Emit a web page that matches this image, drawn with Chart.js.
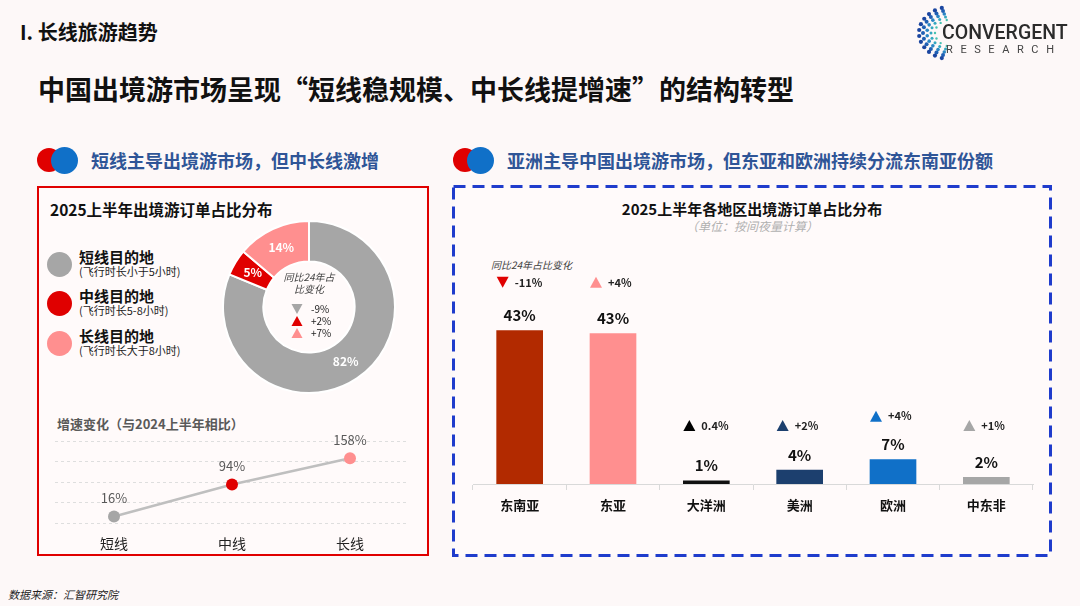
<!DOCTYPE html>
<html>
<head>
<meta charset="utf-8">
<script src="https://cdn.jsdelivr.net/npm/chart.js@4.4.1/dist/chart.umd.min.js"></script>
<style>
body { margin: 0; background: #fdf8f8; font-family: "Noto Sans CJK SC", "Noto Sans", sans-serif; }
#page { position: relative; width: 1080px; height: 606px; overflow: hidden; }
.t { position: absolute; white-space: nowrap; color: #111; }
.dot { position: absolute; border-radius: 50%; }
canvas { position: absolute; }
</style>
</head>
<body>
<div id="page">
  <div class="t" style="left:20px;top:21px;font-size:20px;line-height:22px;font-weight:700;">I. 长线旅游趋势</div>
  <div class="t" style="left:38px;top:73px;font-size:27px;line-height:32px;font-weight:700;">中国出境游市场呈现“短线稳规模、中长线提增速”的结构转型</div>

  <canvas id="logo" width="60" height="64" style="left:900px;top:2px;"></canvas>
  <div class="t" style="left:942px;top:21px;font-family:Roboto,'Noto Sans',sans-serif;font-size:19.5px;line-height:24px;font-weight:500;color:#2b2b2b;">CONVERGENT</div>
  <div class="t" style="left:946px;top:43px;font-family:Roboto,'Noto Sans',sans-serif;font-size:11px;line-height:14px;color:#444;letter-spacing:7.6px;">RESEARCH</div>

  <div class="dot" style="left:37px;top:148px;width:24px;height:24px;background:#e00000;"></div>
  <div class="dot" style="left:51px;top:147px;width:27px;height:27px;background:#1070c8;"></div>
  <div class="t" style="left:91px;top:149px;font-size:18px;line-height:22px;font-weight:700;color:#2f5597;">短线主导出境游市场，但中长线激增</div>
  <div class="dot" style="left:453px;top:148px;width:24px;height:24px;background:#e00000;"></div>
  <div class="dot" style="left:467px;top:147px;width:27px;height:27px;background:#1070c8;"></div>
  <div class="t" style="left:507px;top:149px;font-size:18px;line-height:22px;font-weight:700;color:#2f5597;">亚洲主导中国出境游市场，但东亚和欧洲持续分流东南亚份额</div>

  <div style="position:absolute;left:37px;top:186px;width:392px;height:370px;box-sizing:border-box;border:2.5px solid #e00000;background:#fffafa;"></div>
  <svg style="position:absolute;left:452px;top:185px;" width="600" height="372">
    <rect x="1.5" y="1.5" width="597" height="369" fill="#fffafa" stroke="#1f3ccc" stroke-width="3" stroke-dasharray="12 7"></rect>
  </svg>

  <div class="t" style="left:50px;top:199px;font-size:15.5px;line-height:20px;font-weight:700;">2025上半年出境游订单占比分布</div>
  <div id="legend"></div>
  <canvas id="donut" style="left:222px;top:220px;width:174px;height:174px;"></canvas>

  <div class="t" style="left:57px;top:415px;font-size:13px;line-height:18px;font-weight:700;color:#595959;">增速变化（与2024上半年相比）</div>
  <canvas id="growth" style="left:40px;top:430px;width:380px;height:124px;"></canvas>

  <div class="t" style="left:452px;width:600px;top:199px;text-align:center;font-size:15px;line-height:20px;font-weight:700;">2025上半年各地区出境游订单占比分布</div>
  <div class="t" style="left:452px;width:600px;top:217px;text-align:center;font-size:12px;line-height:17px;font-style:italic;color:#b0b0b0;">（单位：按间夜量计算）</div>
  <div class="t" style="left:491px;top:258px;font-size:10px;line-height:14px;font-style:italic;color:#404040;">同比24年占比变化</div>
  <canvas id="regions" style="left:463px;top:262px;width:580px;height:268px;"></canvas>

  <div class="t" style="left:8px;top:586px;font-size:11px;line-height:16px;font-style:italic;color:#222;">数据来源：汇智研究院</div>
</div>

<script>
// 2025上半年出境游订单占比
const shareLabels = ['短线目的地', '中线目的地', '长线目的地'];
const shareNotes = ['(飞行时长小于5小时)', '(飞行时长5-8小时)', '(飞行时长大于8小时)'];
const shareValues = [82, 5, 14];
const shareChange = [-9, 2, 7];
const shareColors = ['#a6a6a6', '#e00000', '#ff8f8f'];

// 增速变化
const growthLabels = ['短线', '中线', '长线'];
const growthValues = [16, 94, 158];
const growthMax = 200;

// 各地区占比
const regionLabels = ['东南亚', '东亚', '大洋洲', '美洲', '欧洲', '中东非'];
const regionValues = [43.4, 42.6, 1, 4, 7, 2];
const regionChange = [-11, 4, 0.4, 2, 4, 1];
const regionChangeText = ['-11%', '+4%', '0.4%', '+2%', '+4%', '+1%'];
const regionColors = ['#b22a00', '#ff8f8f', '#111111', '#1c3f6e', '#1070c8', '#a6a6a6'];
const regionMarkColors = ['#e00000', '#ff8f8f', '#000000', '#1c3f6e', '#1070c8', '#a6a6a6'];

const FONT = '"Noto Sans CJK SC", "Noto Sans", sans-serif';
Chart.defaults.font.family = FONT;
Chart.defaults.animation = false;

function triangle(ctx, x, y, up, color, w, h) {
    ctx.save();
    ctx.fillStyle = color;
    ctx.beginPath();
    if (up) {
        ctx.moveTo(x, y - h / 2);
        ctx.lineTo(x + w / 2, y + h / 2);
        ctx.lineTo(x - w / 2, y + h / 2);
    } else {
        ctx.moveTo(x - w / 2, y - h / 2);
        ctx.lineTo(x + w / 2, y - h / 2);
        ctx.lineTo(x, y + h / 2);
    }
    ctx.closePath();
    ctx.fill();
    ctx.restore();
}

// legend (left)
const legendTops = [257, 296, 336];
const legend = document.getElementById('legend');
shareLabels.forEach(function (lab, i) {
    const top = legendTops[i];
    legend.insertAdjacentHTML('beforeend',
        '<div class="dot" style="left:47px;top:' + (top - 5) + 'px;width:25px;height:25px;background:' + shareColors[i] + ';"></div>' +
        '<div class="t" style="left:79px;top:' + (top - 10) + 'px;font-size:15px;line-height:20px;font-weight:700;">' + lab + '</div>' +
        '<div class="t" style="left:79px;top:' + (top + 7) + 'px;font-size:11px;line-height:15px;color:#222;">' + shareNotes[i] + '</div>');
});

// logo dots
(function () {
    const c = document.getElementById('logo').getContext('2d');
    const rings = [[17, 7, '#46c2b0', 1.2], [21, 9, '#33a8c0', 1.5], [25, 10, '#2a86c4', 1.8], [29, 11, '#2060b4', 2.0], [33, 12, '#1b46a0', 2.1]];
    rings.forEach(function (r) {
        for (let i = 0; i < r[1]; i++) {
            const a = Math.PI * (0.6 + 0.8 * i / (r[1] - 1));
            const x = 52 + r[0] * Math.cos(a);
            const y = 31 + r[0] * 0.8 * Math.sin(a);
            c.fillStyle = r[2];
            c.beginPath();
            c.arc(x, y, r[3], 0, Math.PI * 2);
            c.fill();
        }
    });
})();

// donut
const donutLabels = {
    id: 'donutLabels',
    afterDatasetsDraw(chart) {
        const ctx = chart.ctx;
        const arcs = chart.getDatasetMeta(0).data;
        ctx.save();
        ctx.fillStyle = '#fff';
        ctx.font = 'bold 12px ' + FONT;
        ctx.textAlign = 'center';
        ctx.textBaseline = 'middle';
        arcs.forEach(function (arc, i) {
            const p = arc.getCenterPoint();
            ctx.fillText(shareValues[i] + '%', p.x, p.y);
        });
        const cx = arcs[0].x, cy = arcs[0].y;
        ctx.fillStyle = '#404040';
        ctx.font = 'italic 10px ' + FONT;
        ctx.fillText('同比24年占', cx, cy - 30);
        ctx.fillText('比变化', cx, cy - 18);
        ctx.textAlign = 'left';
        shareChange.forEach(function (v, i) {
            const y = cy + 2 + i * 12;
            triangle(ctx, cx - 12, y, v > 0, shareColors[i], 11, 10);
            ctx.fillStyle = '#222';
            ctx.font = '10px ' + FONT;
            ctx.fillText((v > 0 ? '+' : '') + v + '%', cx + 2, y);
        });
        ctx.restore();
    }
};

new Chart(document.getElementById('donut'), {
    type: 'doughnut',
    data: {
        labels: shareLabels,
        datasets: [{
            data: shareValues,
            backgroundColor: shareColors,
            borderColor: '#ffffff',
            borderWidth: 2
        }]
    },
    options: {
        responsive: false,
        cutout: '53%',
        events: [],
        plugins: { legend: { display: false }, tooltip: { enabled: false } }
    },
    plugins: [donutLabels]
});

// growth line
const pointLabels = {
    id: 'pointLabels',
    afterDatasetsDraw(chart) {
        const ctx = chart.ctx;
        ctx.save();
        ctx.fillStyle = '#595959';
        ctx.font = '13px ' + FONT;
        ctx.textAlign = 'center';
        ctx.textBaseline = 'middle';
        chart.getDatasetMeta(0).data.forEach(function (pt, i) {
            ctx.fillText(growthValues[i] + '%', pt.x, pt.y - 18);
        });
        ctx.restore();
    }
};

new Chart(document.getElementById('growth'), {
    type: 'line',
    data: {
        labels: growthLabels,
        datasets: [{
            data: growthValues,
            borderColor: '#bfbfbf',
            borderWidth: 2.5,
            pointRadius: 6,
            pointBorderWidth: 0,
            pointBackgroundColor: shareColors,
            pointBorderColor: shareColors
        }]
    },
    options: {
        responsive: false,
        events: [],
        layout: { padding: { left: 15, right: 11, top: 11, bottom: 0 } },
        scales: {
            x: {
                offset: true,
                grid: { display: false, drawTicks: false },
                border: { display: false },
                ticks: { color: '#222', font: { size: 14 }, padding: 12 },
                afterFit(axis) { axis.height = 31; }
            },
            y: {
                min: 0,
                max: growthMax,
                ticks: { display: false, stepSize: 50 },
                border: { display: false, dash: [3, 3] },
                grid: { color: '#dedede', drawTicks: false, lineWidth: 1 },
                afterFit(axis) { axis.width = 0; }
            }
        },
        plugins: { legend: { display: false }, tooltip: { enabled: false } }
    },
    plugins: [pointLabels]
});

// regions bar
const barLabels = {
    id: 'barLabels',
    afterDatasetsDraw(chart) {
        const ctx = chart.ctx;
        const bars = chart.getDatasetMeta(0).data;
        const yScale = chart.scales.y;
        let topMin = Infinity;
        bars.forEach(function (b) { topMin = Math.min(topMin, b.y); });
        ctx.save();
        ctx.textBaseline = 'middle';
        bars.forEach(function (b, i) {
            ctx.fillStyle = '#111';
            ctx.font = 'bold 15px ' + FONT;
            ctx.textAlign = 'center';
            ctx.fillText(Math.round(regionValues[i]) + '%', b.x, b.y - 15);

            let ty;
            if (b.y < yScale.getPixelForValue(20)) {
                ty = topMin - 48;
            } else {
                ty = Math.min(yScale.getPixelForValue(16.5), b.y - 43);
            }
            triangle(ctx, b.x - 17, ty, regionChange[i] > 0, regionMarkColors[i], 12, 11);
            ctx.fillStyle = '#222';
            ctx.font = 'bold 11px ' + FONT;
            ctx.textAlign = 'left';
            ctx.fillText(regionChangeText[i], b.x - 5, ty);
        });
        ctx.restore();
    }
};

new Chart(document.getElementById('regions'), {
    type: 'bar',
    data: {
        labels: regionLabels,
        datasets: [{
            data: regionValues,
            backgroundColor: regionColors,
            barPercentage: 0.5,
            categoryPercentage: 1
        }]
    },
    options: {
        responsive: false,
        events: [],
        layout: { padding: { left: 10, right: 10, top: 45, bottom: 0 } },
        scales: {
            x: {
                grid: { display: true, drawOnChartArea: false, color: '#d9d9d9', tickLength: 6 },
                border: { display: true, color: '#d9d9d9' },
                ticks: { color: '#111', font: { size: 13, weight: 'bold' }, padding: 7 },
                afterFit(axis) { axis.height = 46; }
            },
            y: {
                display: false,
                min: 0,
                max: 50
            }
        },
        plugins: { legend: { display: false }, tooltip: { enabled: false } }
    },
    plugins: [barLabels]
});
</script>
</body>
</html>
